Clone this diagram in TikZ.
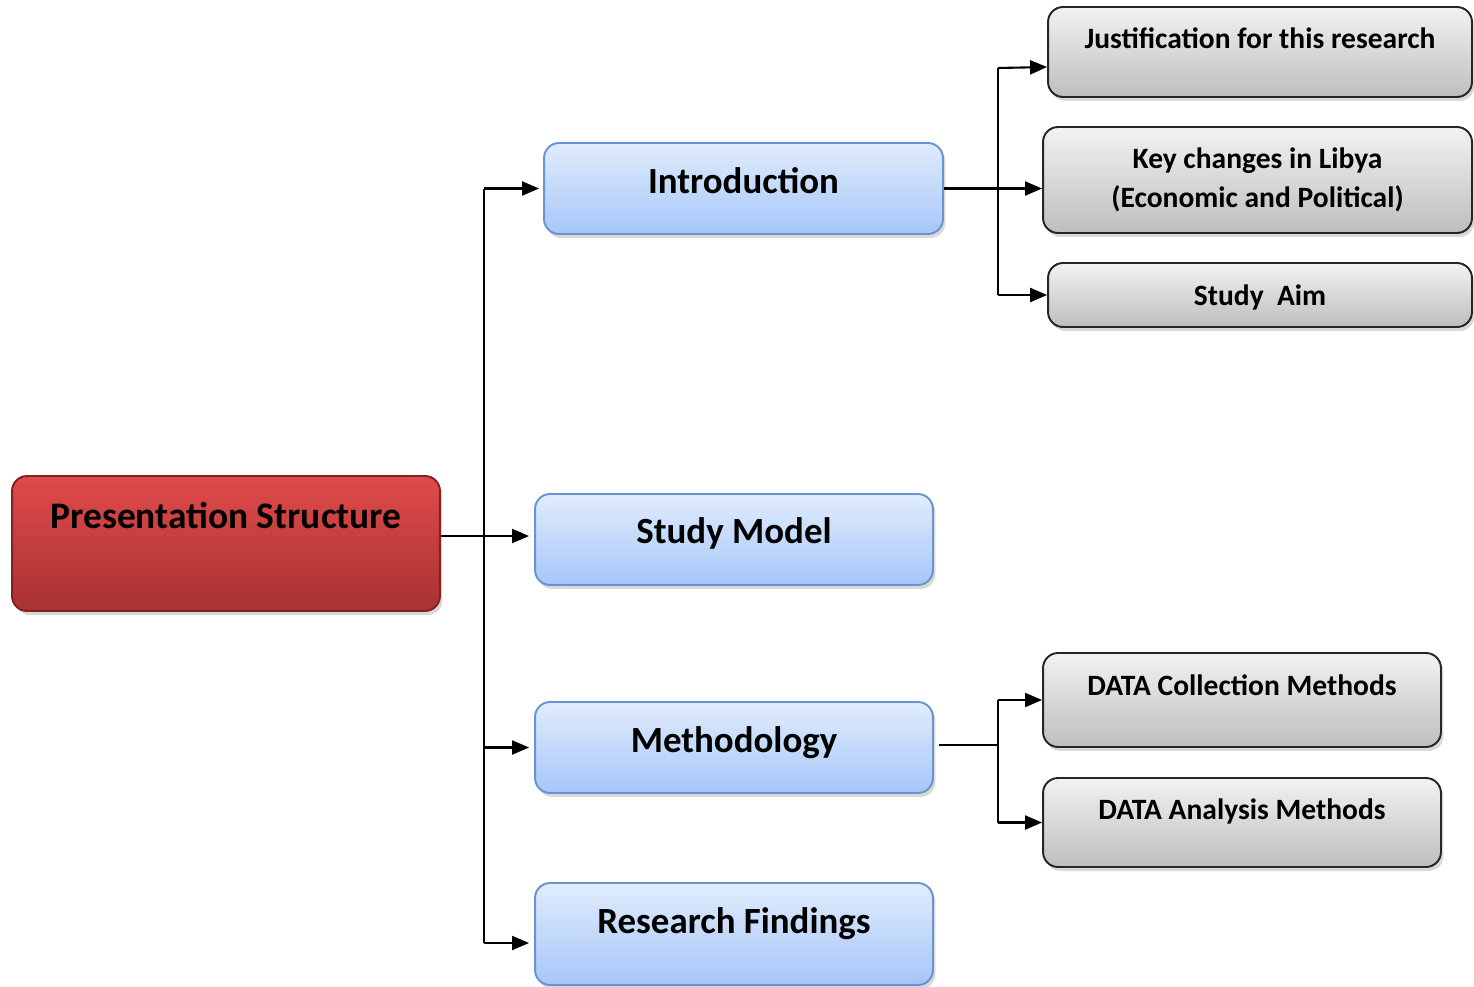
\documentclass[tikz,border=0pt]{standalone}
\usepackage{fontspec}
\setmainfont{Carlito}
\usepackage{tikz}
\usetikzlibrary{positioning}
\usetikzlibrary{%
  shadows,%
  calc,%
  arrows.meta%
}
\definecolor{bluetop}{HTML}{E0ECFC}
\definecolor{bluebot}{HTML}{A6C6F8}
\definecolor{blueedge}{HTML}{6A93CF}
\definecolor{redtop}{HTML}{E04A4A}
\definecolor{redbot}{HTML}{A83232}
\definecolor{rededge}{HTML}{7E2424}
\definecolor{greytop}{HTML}{F2F2F2}
\definecolor{greybot}{HTML}{BEBEBE}

\begin{document}
\begin{tikzpicture}[x=0.02cm, y=-0.02cm,
  every node/.style={inner xsep=0pt, inner ysep=0pt, font=\bfseries},
  box/.style={rounded corners=0.3cm, line width=1.1pt, drop shadow={opacity=0.3, shadow xshift=0.05cm, shadow yshift=-0.08cm}},
  redbox/.style={box, draw=rededge, top color=redtop, bottom color=redbot, minimum width=8.56cm, font=\bfseries\fontsize{21.3}{25}\selectfont},
  bluebox/.style={box, draw=blueedge, top color=bluetop, bottom color=bluebot, minimum width=7.96cm, font=\bfseries\fontsize{21}{25}\selectfont},
  greybox/.style={box, draw=black!85, top color=greytop, bottom color=greybot, font=\bfseries\fontsize{16.8}{22.5}\selectfont},
  conn/.style={line width=1.2pt, -{Triangle[length=0.34cm, width=0.28cm]}},
  trunk/.style={line width=1.2pt}]
\useasboundingbox (0,0) rectangle (1474,987);

\node[redbox, text height=1.04cm, text depth=1.66cm] (root) at (226,543.5) {Presentation Structure};

\node[bluebox, minimum width=7.98cm, text height=1.0cm, text depth=0.82cm] (intro) at (743.5,188.5) {Introduction};
\node[bluebox, text height=0.98cm, text depth=0.84cm] (model) at (734,539.5) {Study Model};
\node[bluebox, text height=1.0cm, text depth=0.82cm] (method) at (734,747.5) {Methodology};
\node[bluebox, text height=1.0cm, text depth=1.04cm] (findings) at (734,934) {Research Findings};

\node[greybox, minimum width=8.48cm, text height=0.82cm, text depth=0.98cm] (justif) at (1260,52) {Justification for this research};
\node[greybox, minimum width=8.58cm, minimum height=2.12cm, align=center] (libya) at (1257.5,180) {Key changes in Libya\\(Economic and Political)};
\node[greybox, minimum width=8.48cm, text height=0.84cm, text depth=0.44cm] (aim) at (1260,295) {Study\ \ Aim};
\node[greybox, minimum width=7.96cm, text height=0.84cm, text depth=1.04cm] (collect) at (1242,700) {DATA Collection Methods};
\node[greybox, minimum width=7.96cm, text height=0.82cm, text depth=0.96cm] (analysis) at (1242,822.5) {DATA Analysis Methods};

% main branches
\coordinate (tk) at (484,536);
\coordinate (fk) at ([yshift=-0.18cm]findings.west);
\draw[trunk] (tk |- intro.west) -- (tk |- fk);
\draw[conn, shorten >=0.1cm] (root.east |- tk) -- (model.west |- tk);
\draw[conn, shorten >=0.08cm] (tk |- intro.west) -- (intro.west);
\draw[conn, shorten >=0.1cm] (tk |- method.west) -- (method.west);
\draw[conn, shorten >=0.1cm] (tk |- fk) -- (fk);

% introduction
\coordinate (ib) at (998,188);
\draw[trunk] (ib |- 0,68) -- (ib |- aim.west);
\draw[conn] (intro.east) -- (libya.west |- intro.east);
\draw[conn] (ib |- 0,68) -- ([yshift=-0.3cm]justif.west);
\draw[conn] (ib |- aim.west) -- (aim.west);

% methodology
\coordinate (mb) at (998,745);
\draw[trunk] ([xshift=0.1cm]method.east |- mb) -- (mb);
\draw[trunk] (mb |- collect.west) -- (mb |- analysis.west);
\draw[conn] (mb |- collect.west) -- (collect.west);
\draw[conn] (mb |- analysis.west) -- (analysis.west);
\end{tikzpicture}
\end{document}
